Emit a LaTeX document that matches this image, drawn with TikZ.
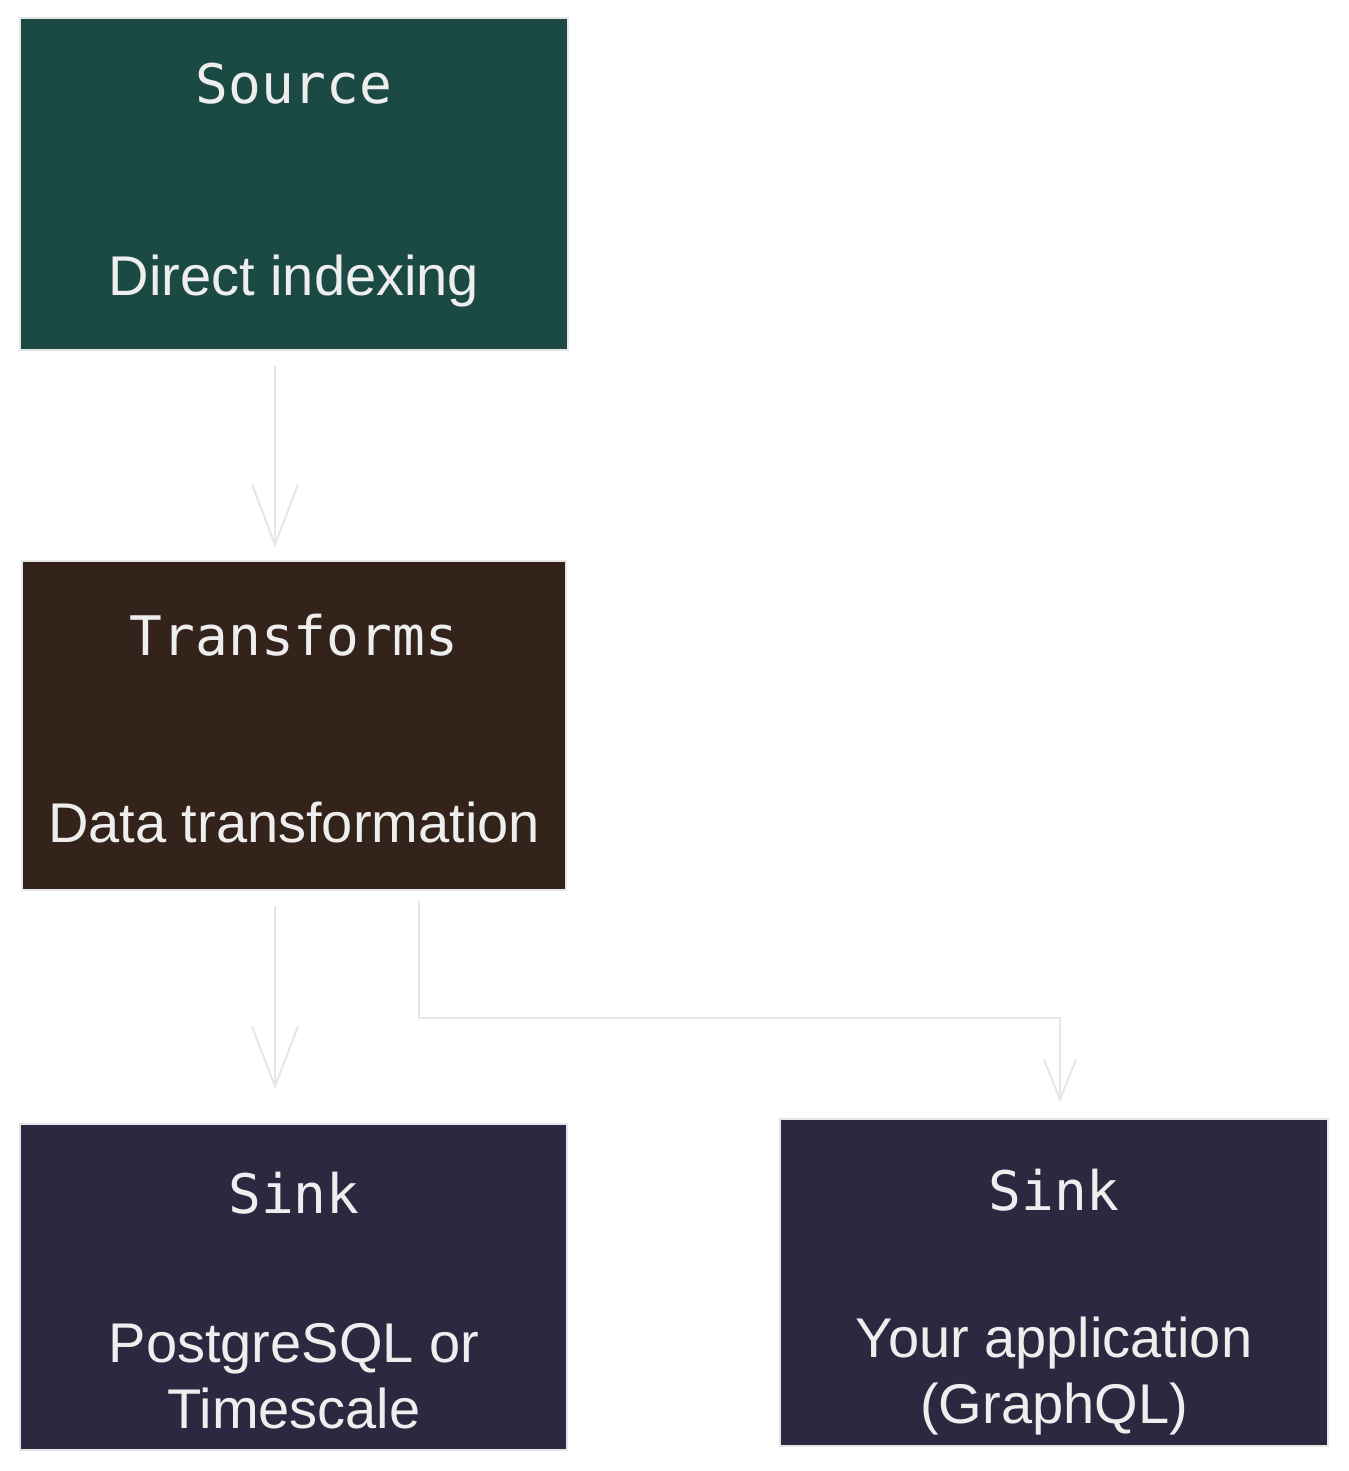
\documentclass[tikz,border=0pt]{standalone}
\usepackage{fontspec}
\setmainfont{Liberation Sans}
\newfontfamily\titlefont{DejaVu Sans Mono}
\usetikzlibrary{arrows.meta}

\definecolor{srcgreen}{HTML}{1B4A45}
\definecolor{trbrown}{HTML}{33231A}
\definecolor{sinkblue}{HTML}{2A2940}
\definecolor{txtwhite}{HTML}{EEEEEE}
\definecolor{flowgray}{HTML}{E6E6E6}

\begin{document}
\begin{tikzpicture}[x=1pt, y=-1pt,
    stage/.style={rectangle, draw=flowgray, line width=1.5pt, inner sep=0pt},
    titletxt/.style={anchor=base, text=txtwhite, font=\titlefont\fontsize{54.5}{64}\selectfont},
    bodytxt/.style={anchor=base, text=txtwhite, align=center, font=\fontsize{56}{66}\selectfont},
    flow/.style={draw=flowgray, line width=2pt, -{Straight Barb[length=60pt, width=46pt]}},
    smallflow/.style={flow, -{Straight Barb[length=40pt, width=32pt]}}]
    \useasboundingbox (0,0) rectangle (1348,1471);

    % Boxes
    \node[stage, fill=srcgreen, minimum width=548pt, minimum height=332pt] (src) at (294,184) {};
    \node[stage, fill=trbrown, minimum width=544pt, minimum height=329pt] (tr) at (294,725.5) {};
    \node[stage, fill=sinkblue, minimum width=547pt, minimum height=326pt] (snkA) at (293.5,1287) {};
    \node[stage, fill=sinkblue, minimum width=548pt, minimum height=327pt] (snkB) at (1054,1282.5) {};

    % Labels (base = last line)
    \node[titletxt] (srcT) at (294,104) {Source};
    \node[bodytxt] (srcB) at (294,295) {Direct indexing};
    \node[titletxt] (trT) at (294,655) {Transforms};
    \node[bodytxt] (trB) at (294,842) {Data transformation};
    \node[titletxt] (snkAT) at (294,1213) {Sink};
    \node[bodytxt] (snkAB) at (294,1428) {PostgreSQL or\\Timescale};
    \node[titletxt] (snkBT) at (1054,1210) {Sink};
    \node[bodytxt] (snkBB) at (1054,1423) {Your application\\(GraphQL)};

    % Connectors
    \coordinate (split) at (419,1018);
    \draw[flow] ([xshift=-19pt, yshift=-15pt]src.south) -- ([xshift=-19pt, yshift=13pt]tr.north);
    \draw[flow] ([xshift=-19pt, yshift=-15pt]tr.south) -- ([xshift=-18.5pt, yshift=34pt]snkA.north);
    \draw[smallflow] ([xshift=125pt, yshift=-10pt]tr.south) -- (split) -| ([xshift=6pt, yshift=16pt]snkB.north);
\end{tikzpicture}
\end{document}
